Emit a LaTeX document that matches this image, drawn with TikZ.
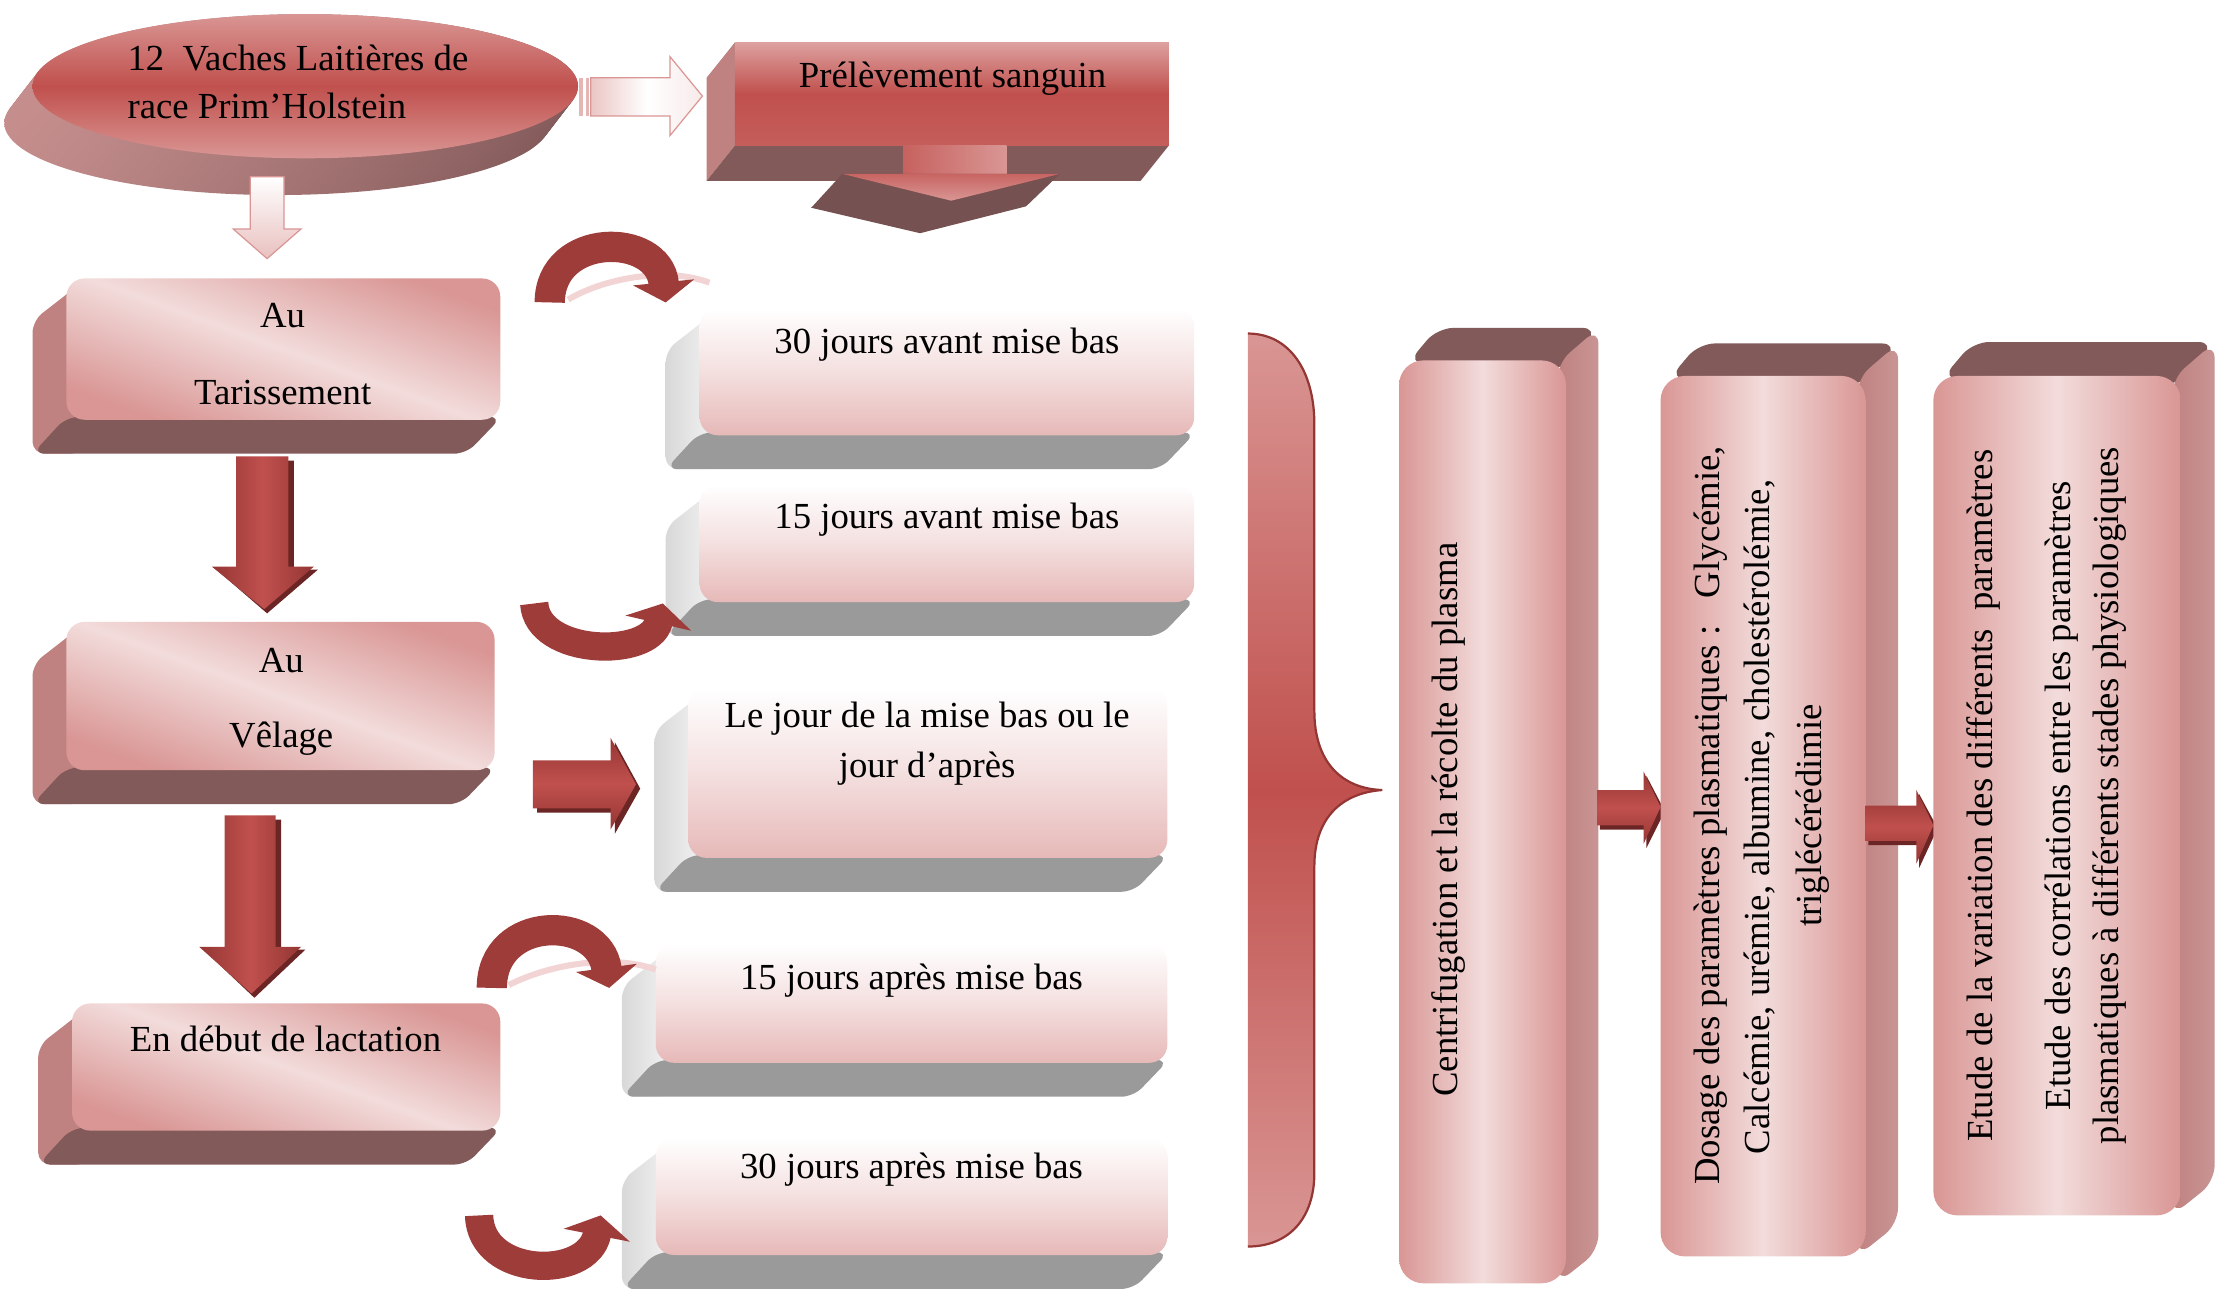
\documentclass[tikz,border=0pt]{standalone}
\usepackage{fontspec}
\setmainfont{Liberation Serif}
\usetikzlibrary{arrows.meta}
\definecolor{pkA}{HTML}{D99694}
\definecolor{pkL}{HTML}{F2DCDB}
\definecolor{rdM}{HTML}{C0504D}
\definecolor{rdD}{HTML}{943634}
\definecolor{rdS}{HTML}{6B2524}
\definecolor{sideL}{HTML}{BF8281}
\definecolor{sideD}{HTML}{835A5A}
\definecolor{gyL}{HTML}{E2E2E2}
\definecolor{gyD}{HTML}{9A9A9A}
\definecolor{pkG}{HTML}{E6B9B8}
\definecolor{arcR}{HTML}{9E3C3A}
\definecolor{arcP}{HTML}{F2D4D4}
% horizontal red 3D box: x1,y1,x2,y2,depth
\newcommand\rbox[5]{%
  \fill[sideL,rounded corners=6pt] ({#1+12},{#2+2}) -- ({#1-#5},{#2+#5+6}) -- ({#1-#5},{#4+#5}) -- ({#1+12},{#4+#5}) -- cycle;
  \fill[sideD,rounded corners=6pt] ({#1},{#4-2}) -- ({#1-#5},{#4+#5}) -- ({#3-#5},{#4+#5}) -- ({#3+1},{#4-2}) -- cycle;
  \shade[rounded corners=9pt,top color=pkA,bottom color=pkA,middle color=pkL,shading angle=-20] (#1,#2) rectangle (#3,#4);
}
% grey 3D box
\newcommand\gbox[5]{%
  \shade[rounded corners=6pt,left color=gyL!90!gray,right color=gyL!40!white] ({#1+12},{#2+2}) -- ({#1-#5},{#2+#5+6}) -- ({#1-#5},{#4+#5}) -- ({#1+12},{#4+#5}) -- cycle;
  \fill[gyD,rounded corners=6pt] ({#1},{#4-2}) -- ({#1-#5},{#4+#5}) -- ({#3-#5},{#4+#5}) -- ({#3+1},{#4-2}) -- cycle;
  \shade[rounded corners=9pt,top color=white,bottom color=pkG,middle color=pkG!45!white] (#1,#2) rectangle (#3,#4);
}
% tall red 3D box, extruded up-right
\newcommand\tallbox[5]{%
  \fill[sideD,rounded corners=8pt] ({#1+6},{#2+2}) -- ({#1+#5+4},{#2-#5}) -- ({#3+#5},{#2-#5}) -- ({#3},{#2+6}) -- cycle;
  \shade[rounded corners=8pt,left color=sideL,right color=sideL!85!white] ({#3-6},{#2+2}) -- ({#3+#5},{#2-#5}) -- ({#3+#5},{#4-#5}) -- ({#3-6},{#4}) -- cycle;
  \shade[rounded corners=12pt,left color=pkA,right color=pkA,middle color=pkL] (#1,#2) rectangle (#3,#4);
}
\begin{document}
\begin{tikzpicture}[x=0.7pt,y=-0.7pt,
  every node/.style={font=\fontsize{18.2pt}{24pt}\selectfont,inner sep=0pt},
  curv/.style={draw=arcR,line width=15pt,-{Triangle[length=10pt,width=30pt]}},
  curvb/.style={draw=arcR,line width=14pt,-{Triangle[length=10pt,width=33pt]}},
  refl/.style={draw=arcP,line width=3pt},
  redarrV/.style={left color=rdD,right color=rdD,middle color=rdM},
  redarrH/.style={top color=rdD,bottom color=rdD,middle color=rdM},
  shadowA/.style={fill=rdS}]
\useasboundingbox (0,0) rectangle (1568,914);

% ---------- cylinder (ellipse)
\foreach \i in {0,...,24}{
  \shade[left color=sideL!90!white,right color=sideD] ({196+20*\i/24},{87-26*\i/24}) ellipse [x radius=135.1pt,y radius=35.7pt];}
\shade[top color=pkA,bottom color=pkA,middle color=rdM] (216,61) ellipse [x radius=135.1pt,y radius=35.7pt];
\node[anchor=base west] (vaches1) at (90,50) {12\ \ Vaches Laitières de};
\node[anchor=base west] (vaches2) at (90,84) {race Prim’Holstein};

% light arrow to the right
\fill[pkA!70] (410,55) rectangle (412.5,82);
\fill[pkA!70] (414.5,55) rectangle (416.5,82);
\shade[draw=pkA,line width=0.6pt,left color=pkA!55,right color=white!80!pkA,middle color=white]
  (418,55) -- (474,55) -- (474,40) -- (497,68) -- (474,96) -- (474,82) -- (418,82) -- cycle;
% light arrow down
\shade[draw=pkA,line width=0.6pt,top color=white,bottom color=pkA!60]
  (177,125) -- (201,125) -- (201,162) -- (213,162) -- (189,183) -- (165,162) -- (177,162) -- cycle;

% ---------- Prelevement box
\fill[sideL] (520,30) -- (500,55) -- (500,128) -- (520,103) -- cycle;
\fill[sideD] (520,103) -- (827,103) -- (807,128) -- (500,128) -- cycle;
\shade[top color=pkA!90!white,bottom color=rdM!80!pkA,middle color=rdM] (520,30) rectangle (827,103);
\node[anchor=base] (prel) at (674,62) {Prélèvement sanguin};
\shade[left color=rdM!75!pkA,right color=pkA] (639,103) rectangle (712,124);
\fill[sideD!90!black] (596,123) -- (750,123) -- (726,146) -- (651,165) -- (574,147) -- cycle;
\shade[top color=rdM!70!pkA,bottom color=pkA] (596,123) -- (750,123) -- (673,142) -- cycle;

% ---------- left column boxes
\rbox{47}{197}{354}{297}{24}
\node[anchor=base] (au1) at (200,232) {Au};
\node[anchor=base] (tar) at (200,286) {Tarissement};
\rbox{47}{440}{350}{545}{24}
\node[anchor=base] (au2) at (199,476) {Au};
\node[anchor=base] (vel) at (199,529) {Vêlage};
\rbox{51}{710}{354}{800}{24}
\node[anchor=base] (lact) at (202,744) {En début de lactation};

% down arrows
\fill[shadowA] (171,326) -- (208,326) -- (208,403) -- (225,403) -- (189,434) -- (153,403) -- (171,403) -- cycle;
\shade[redarrV] (167,323) -- (204,323) -- (204,401) -- (222,401) -- (187,431) -- (150,401) -- (167,401) -- cycle;
\fill[shadowA] (162,580) -- (199,580) -- (199,672) -- (216,672) -- (180,706) -- (144,672) -- (162,672) -- cycle;
\shade[redarrV] (159,577) -- (195,577) -- (195,670) -- (213,670) -- (178,703) -- (141,670) -- (159,670) -- cycle;

% ---------- grey boxes
\gbox{495}{218}{845}{308}{24}
\node[anchor=base] (j30a) at (670,250) {30 jours avant mise bas};
\gbox{495}{343}{845}{426}{24}
\node[anchor=base] (j15a) at (670,374) {15 jours avant mise bas};
\gbox{487}{487}{826}{607}{24}
\node[anchor=base] (j0a) at (656,515) {Le jour de la mise bas ou le};
\node[anchor=base] (j0b) at (656,550) {jour d’après};
\gbox{464}{668}{826}{752}{24}
\node[anchor=base] (j15p) at (645,700) {15 jours après mise bas};
\gbox{464}{805}{826}{888}{24}
\node[anchor=base] (j30p) at (645,834) {30 jours après mise bas};

% ---------- connectors from left column to grey boxes
\draw[refl] (402,212) .. controls (425,198) and (470,188) .. (502,200);
\draw[curv] (389,214) .. controls (389,164) and (466,164) .. (471,214);
\draw[curvb] (378,427) .. controls (380,464) and (460,466) .. (469,427);
\fill[shadowA] (380,541) -- (435,541) -- (435,525) -- (453,558) -- (435,590) -- (435,575) -- (380,575) -- cycle;
\shade[redarrH] (377,538) -- (432,538) -- (432,522) -- (450,555) -- (432,587) -- (432,572) -- (377,572) -- cycle;
\draw[refl] (360,697) .. controls (385,684) and (430,674) .. (464,686);
\draw[curv] (348,699) .. controls (348,647) and (424,647) .. (431,699);
\draw[curvb] (339,860) .. controls (340,904) and (416,906) .. (425,860);

% ---------- brace
\shade[top color=pkA,bottom color=pkA,middle color=rdM]
  (883,236) .. controls (912,236) and (930,262) .. (930,300) -- (930,503)
  .. controls (930,540) and (950,558) .. (978,559)
  .. controls (950,561) and (930,578) .. (930,613) -- (930,830)
  .. controls (930,862) and (912,882) .. (883,882) -- cycle;
\draw[rdD,line width=1.1pt]
  (883,236) .. controls (912,236) and (930,262) .. (930,300) -- (930,503)
  .. controls (930,540) and (950,558) .. (978,559)
  .. controls (950,561) and (930,578) .. (930,613) -- (930,830)
  .. controls (930,862) and (912,882) .. (883,882);

% ---------- tall boxes
\tallbox{990}{255}{1108}{908}{23}
\node[anchor=base,rotate=90] (centri) at (1031,580) {Centrifugation et la récolte du plasma};
\fill[shadowA] (1132,562) -- (1165,562) -- (1165,549) -- (1178,574) -- (1165,600) -- (1165,587) -- (1132,587) -- cycle;
\shade[redarrH] (1130,559) -- (1163,559) -- (1163,546) -- (1175,571) -- (1163,597) -- (1163,584) -- (1130,584) -- cycle;
\tallbox{1175}{266}{1320}{889}{23}
\node[anchor=base,rotate=90] (dos1) at (1217,577) {Dosage des paramètres plasmatiques :\ \ \ Glycémie,};
\node[anchor=base,rotate=90] (dos2) at (1252,578) {Calcémie, urémie, albumine, cholestérolémie,};
\node[anchor=base,rotate=90] (dos3) at (1289,577) {triglécérédimie};
\fill[shadowA] (1322,573) -- (1358,573) -- (1358,562) -- (1371,586) -- (1358,614) -- (1358,598) -- (1322,598) -- cycle;
\shade[redarrH] (1320,570) -- (1356,570) -- (1356,559) -- (1368,584) -- (1356,611) -- (1356,595) -- (1320,595) -- cycle;
\tallbox{1368}{266}{1543}{860}{24}
\node[anchor=base,rotate=90] (et1) at (1410,563) {Etude de la variation des différents\ \ paramètres};
\node[anchor=base,rotate=90] (et2) at (1465,563) {Etude des corrélations entre les paramètres};
\node[anchor=base,rotate=90] (et3) at (1499,563) {plasmatiques à différents stades physiologiques};
\end{tikzpicture}
\end{document}
